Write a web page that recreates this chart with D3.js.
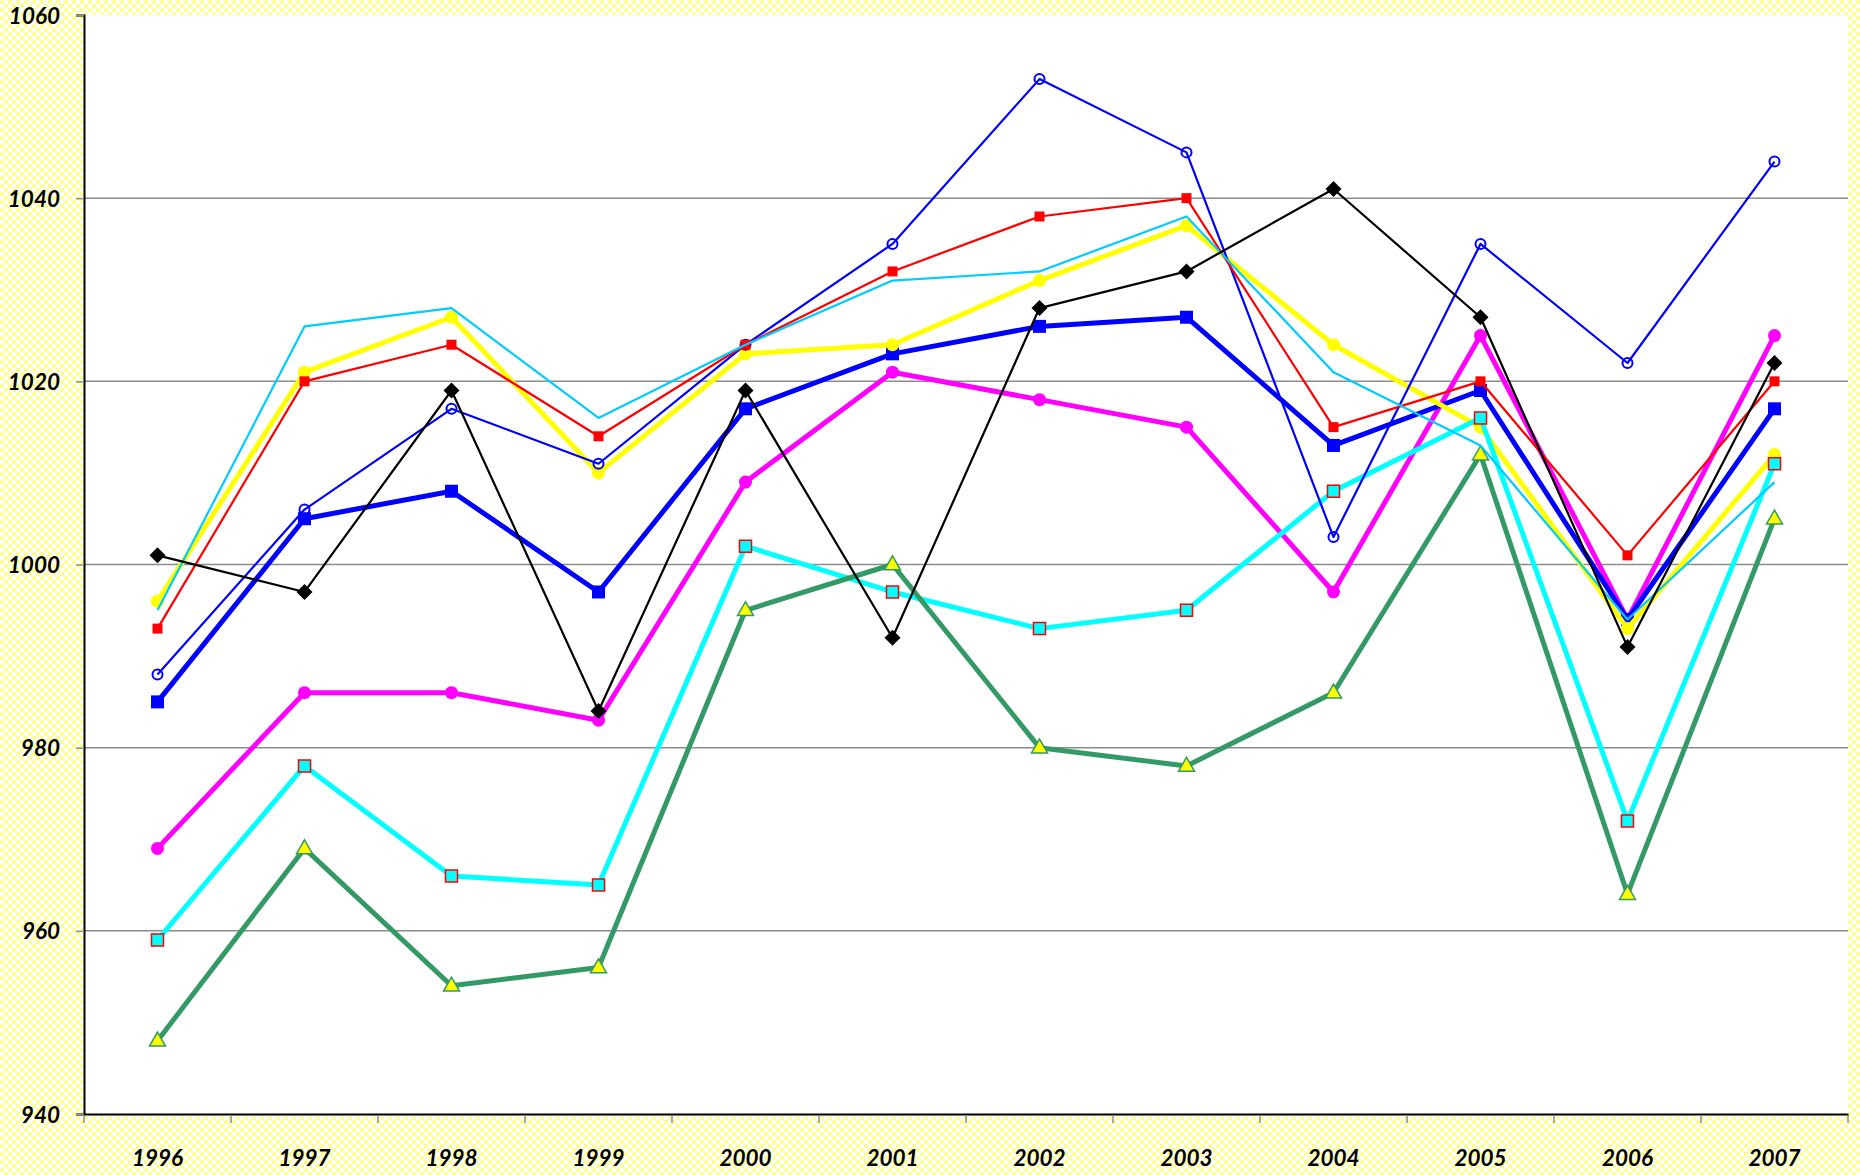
<!DOCTYPE html>
<html>
<head>
<meta charset="utf-8">
<script src="https://cdn.jsdelivr.net/npm/d3@7"></script>
<style>
  html, body { margin: 0; padding: 0; background: #fff; }
  svg { display: block; }
  .lbl { font-family: Lato, "Open Sans", sans-serif; font-weight: 700; font-style: italic; font-size: 22.5px; fill: #000; }
</style>
</head>
<body>
<svg id="chart" width="1860" height="1175"></svg>
<script>
// ---------- data ----------
const years = ["1996","1997","1998","1999","2000","2001","2002","2003","2004","2005","2006","2007"];
const yTicks = [940, 960, 980, 1000, 1020, 1040, 1060];

const magentaCircle = [969, 986, 986, 983, 1009, 1021, 1018, 1015, 997, 1025, 994, 1025];
const blueSquare    = [985, 1005, 1008, 997, 1017, 1023, 1026, 1027, 1013, 1019, 994, 1017];
const yellowCircle  = [996, 1021, 1027, 1010, 1023, 1024, 1031, 1037, 1024, 1015, 993, 1012];
const cyanSquare    = [959, 978, 966, 965, 1002, 997, 993, 995, 1008, 1016, 972, 1011];
const greenTriangle = [948, 969, 954, 956, 995, 1000, 980, 978, 986, 1012, 964, 1005];
const blueOpenCircle= [988, 1006, 1017, 1011, 1024, 1035, 1053, 1045, 1003, 1035, 1022, 1044];
const redSquare     = [993, 1020, 1024, 1014, 1024, 1032, 1038, 1040, 1015, 1020, 1001, 1020];
const lightBlueLine = [995, 1026, 1028, 1016, 1024, 1031, 1032, 1038, 1021, 1013, 994, 1009];
const blackDiamond  = [1001, 997, 1019, 984, 1019, 992, 1028, 1032, 1041, 1027, 991, 1022];

// series styles (drawing order bottom -> top)
const series = [
  { values: magentaCircle,  color: "#ff00ff", width: 5,   marker: "circle",  size: 13, fill: "#ff00ff", stroke: "#ff00ff", sw: 0 },
  { values: blueSquare,     color: "#0000ff", width: 5,   marker: "square",  size: 13, fill: "#0000ff", stroke: "#0000ff", sw: 0 },
  { values: yellowCircle,   color: "#ffff00", width: 5,   marker: "circle",  size: 13, fill: "#ffff00", stroke: "#ffff00", sw: 0 },
  { values: cyanSquare,     color: "#00ffff", width: 5,   marker: "square",  size: 12, fill: "#00ffff", stroke: "#ff0000", sw: 1.5 },
  { values: greenTriangle,  color: "#339966", width: 5,   marker: "triangle",size: 16, fill: "#ffff00", stroke: "#339966", sw: 1.5 },
  { values: blueOpenCircle, color: "#0000ff", width: 2.2, marker: "circle",  size: 10, fill: "none",    stroke: "#0000ff", sw: 2 },
  { values: redSquare,      color: "#ff0000", width: 2.2, marker: "square",  size: 10, fill: "#ff0000", stroke: "#ff0000", sw: 0 },
  { values: lightBlueLine,  color: "#00ccff", width: 2.2, marker: null },
  { values: blackDiamond,   color: "#000000", width: 2.2, marker: "diamond", size: 16, fill: "#000000", stroke: "#000000", sw: 0 }
];

// ---------- layout ----------
const W = 1860, H = 1175;
const plot = { left: 84, right: 1848, top: 15, bottom: 1114 };

const svg = d3.select("#chart");
const defs = svg.append("defs");
const pat = defs.append("pattern").attr("id", "chk").attr("width", 8).attr("height", 8)
  .attr("patternUnits", "userSpaceOnUse");
pat.append("rect").attr("width", 8).attr("height", 8).attr("fill", "#ffffff");
pat.append("rect").attr("width", 4).attr("height", 4).attr("fill", "#ffff99");
pat.append("rect").attr("x", 4).attr("y", 4).attr("width", 4).attr("height", 4).attr("fill", "#ffff99");

svg.append("rect").attr("width", W).attr("height", H).attr("fill", "url(#chk)");
svg.append("rect").attr("x", plot.left).attr("y", plot.top)
  .attr("width", plot.right - plot.left).attr("height", plot.bottom - plot.top).attr("fill", "#fff");

const x = d3.scaleBand().domain(years).range([plot.left, plot.right]).padding(0);
const y = d3.scaleLinear().domain([940, 1060]).range([plot.bottom, plot.top]);
const cx = d => x(d) + x.bandwidth() / 2;

// gridlines
svg.append("g").selectAll("line").data(yTicks.filter(v => v > 940 && v < 1060)).join("line")
  .attr("x1", plot.left).attr("x2", plot.right)
  .attr("y1", d => y(d)).attr("y2", d => y(d))
  .attr("stroke", "#8c8c8c").attr("stroke-width", 1.5);

// y axis
const yAxis = svg.append("g").attr("transform", `translate(${plot.left},0)`)
  .call(d3.axisLeft(y).tickValues(yTicks).tickSize(8).tickPadding(16).tickFormat(d3.format("d")));
yAxis.select(".domain").attr("stroke", "#000").attr("stroke-width", 2);
yAxis.selectAll(".tick line").attr("stroke", "#8c8c8c").attr("stroke-width", 1.5);
yAxis.selectAll(".tick text").attr("class", "lbl").attr("font-family", null).attr("font-size", null)
  .attr("x", -24).attr("dy", "0.36em");

// x axis: labels at centers, ticks at band boundaries
const xAxis = svg.append("g").attr("transform", `translate(0,${plot.bottom})`)
  .call(d3.axisBottom(x).tickSize(0).tickPadding(0));
xAxis.select(".domain").attr("stroke", "#000").attr("stroke-width", 2);
xAxis.selectAll(".tick text").attr("class", "lbl").attr("font-family", null).attr("font-size", null)
  .attr("y", 52).attr("dy", 0);
const bounds = years.map(d => x(d)).concat([x(years[years.length - 1]) + x.bandwidth()]);
xAxis.append("g").selectAll("line").data(bounds).join("line")
  .attr("x1", d => d).attr("x2", d => d).attr("y1", 1).attr("y2", 9)
  .attr("stroke", "#8c8c8c").attr("stroke-width", 1.5);

// marker shapes
function markerPath(type, s) {
  const h = s / 2;
  if (type === "circle") return `M${-h},0A${h},${h} 0 1,0 ${h},0A${h},${h} 0 1,0 ${-h},0Z`;
  if (type === "square") return `M${-h},${-h}H${h}V${h}H${-h}Z`;
  if (type === "diamond") return `M0,${-h}L${h},0L0,${h}L${-h},0Z`;
  if (type === "triangle") { const th = s * 0.87; return `M0,${-th * 0.62}L${h},${th * 0.38}L${-h},${th * 0.38}Z`; }
  return "";
}

// series
const line = d3.line().x((d, i) => cx(years[i])).y(d => y(d));
series.forEach(s => {
  const g = svg.append("g");
  g.append("path").attr("d", line(s.values)).attr("fill", "none")
    .attr("stroke", s.color).attr("stroke-width", s.width).attr("stroke-linejoin", "round");
  if (s.marker) {
    g.selectAll("path.m").data(s.values).join("path").attr("class", "m")
      .attr("d", markerPath(s.marker, s.size))
      .attr("transform", (d, i) => `translate(${cx(years[i])},${y(d)})`)
      .attr("fill", s.fill).attr("stroke", s.sw ? s.stroke : "none").attr("stroke-width", s.sw)
      .attr("stroke-linejoin", "miter");
  }
});
</script>
</body>
</html>
